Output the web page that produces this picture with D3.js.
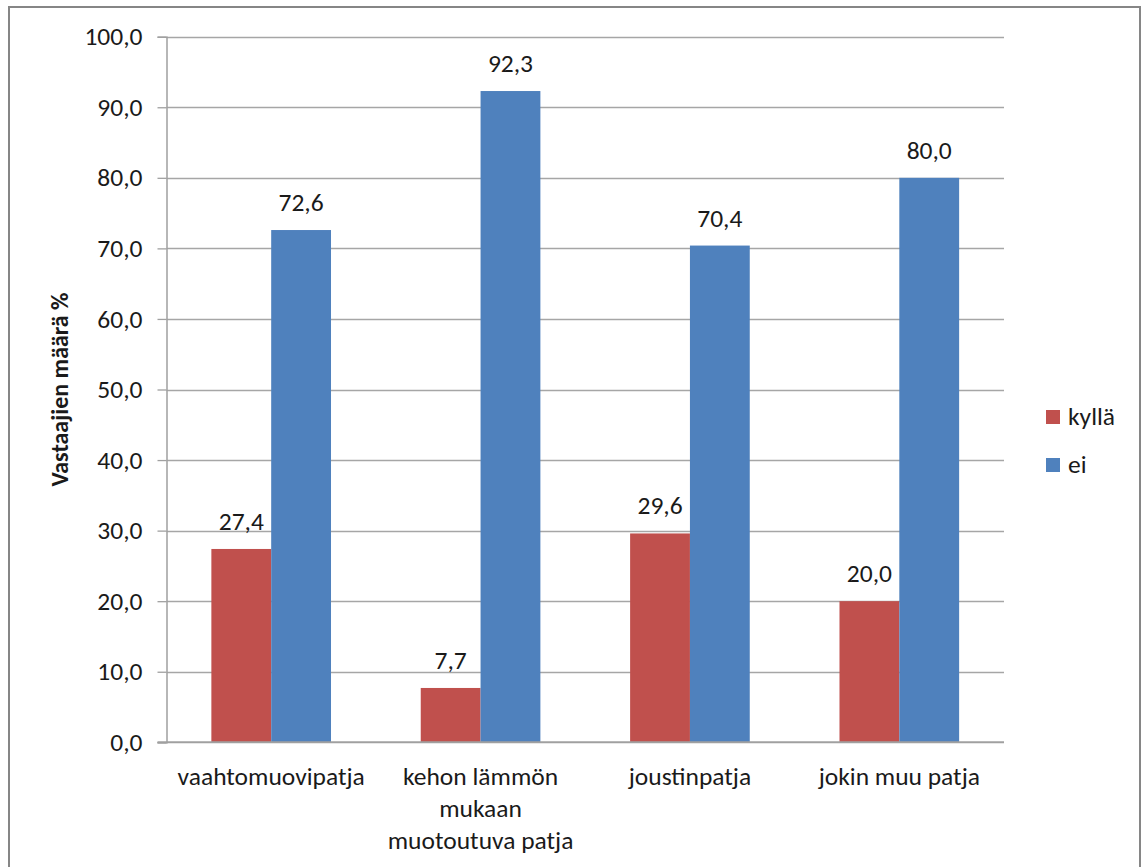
<!DOCTYPE html>
<html>
<head>
<meta charset="utf-8">
<script src="https://cdn.jsdelivr.net/npm/d3@7/dist/d3.min.js"></script>
<style>
  html, body { margin: 0; padding: 0; background: #fff; }
  svg text { font-family: Carlito, Calibri, Lato, "Open Sans", sans-serif; fill: #1a1a1a; }
</style>
</head>
<body>
<svg id="chart" width="1141" height="867"></svg>
<script>
// Mattress types (multi-line category labels)
const categories = [
  ["vaahtomuovipatja"],
  ["kehon lämmön", "mukaan", "muotoutuva patja"],
  ["joustinpatja"],
  ["jokin muu patja"]
];
const seriesNames = ["kyllä", "ei"];
const kylla = [27.4, 7.7, 29.6, 20.0];
const ei = [72.6, 92.3, 70.4, 80.0];
const yTicks = [0, 10, 20, 30, 40, 50, 60, 70, 80, 90, 100];
const colors = ["#C0504D", "#4F81BD"];
const yTitle = "Vastaajien määrä %";

const svg = d3.select("#chart");
const fmt = v => v.toFixed(1).replace(".", ",");
const FS = 25.5;

// outer frame
svg.append("rect")
  .attr("x", 9).attr("y", 7).attr("width", 1131).attr("height", 870)
  .attr("fill", "none").attr("stroke", "#868686").attr("stroke-width", 2);

const plot = { left: 166.5, right: 1004, top: 36.7, bottom: 742.3 };

const x0 = d3.scaleBand()
  .domain(d3.range(categories.length))
  .range([plot.left, plot.right])
  .paddingInner(0).paddingOuter(0);

const barW = x0.bandwidth() / 3.5;
const x1 = d3.scaleBand().domain(d3.range(seriesNames.length))
  .range([x0.bandwidth() / 2 - barW, x0.bandwidth() / 2 + barW]);

const y = d3.scaleLinear().domain([0, 100]).range([plot.bottom, plot.top]);

// gridlines
svg.append("g").selectAll("line").data(yTicks.filter(t => t > 0)).join("line")
  .attr("x1", plot.left).attr("x2", plot.right)
  .attr("y1", d => Math.round(y(d)) + 0.5).attr("y2", d => Math.round(y(d)) + 0.5)
  .attr("stroke", "#a6a6a6").attr("stroke-width", 1.3);

// y axis
const yAxis = d3.axisLeft(y).tickValues(yTicks).tickFormat(fmt).tickSize(9).tickPadding(15);
const gy = svg.append("g").attr("transform", `translate(${plot.left},0)`).call(yAxis);
gy.select(".domain").attr("stroke", "#a0a0a0").attr("stroke-width", 1.5);
gy.selectAll(".tick line").attr("stroke", "#a0a0a0").attr("stroke-width", 1.3);
gy.selectAll(".tick text").attr("font-size", FS).attr("fill", "#1a1a1a");

// bars
const data = [kylla, ei];
const groups = svg.append("g").selectAll("g").data(categories).join("g")
  .attr("transform", (d, i) => `translate(${x0(i)},0)`);

groups.each(function(cat, i) {
  const g = d3.select(this);
  seriesNames.forEach((s, j) => {
    const v = data[j][i];
    g.append("rect")
      .attr("x", x1(j)).attr("width", x1.bandwidth())
      .attr("y", y(v)).attr("height", y(0) - y(v))
      .attr("fill", colors[j]);
    g.append("text")
      .attr("x", x1(j) + x1.bandwidth() / 2)
      .attr("y", y(v) - 19)
      .attr("text-anchor", "middle")
      .attr("font-size", FS)
      .text(fmt(v));
  });
});

// x axis line
svg.append("line")
  .attr("x1", plot.left - 9).attr("x2", plot.right)
  .attr("y1", plot.bottom).attr("y2", plot.bottom)
  .attr("stroke", "#a0a0a0").attr("stroke-width", 2);

// category labels
groups.each(function(cat, i) {
  const t = d3.select(this).append("text")
    .attr("x", x0.bandwidth() / 2)
    .attr("y", plot.bottom + 43)
    .attr("text-anchor", "middle")
    .attr("font-size", FS);
  cat.forEach((line, k) => {
    t.append("tspan").attr("x", x0.bandwidth() / 2).attr("dy", k === 0 ? 0 : 32).text(line);
  });
});

// y axis title
svg.append("text")
  .attr("transform", `translate(68,${(plot.top + plot.bottom) / 2}) rotate(-90)`)
  .attr("text-anchor", "middle")
  .attr("font-size", 24).attr("font-weight", "bold")
  .text(yTitle);

// legend
const legend = svg.append("g").selectAll("g").data(seriesNames).join("g")
  .attr("transform", (d, i) => `translate(1046,${410 + i * 48})`);
legend.append("rect").attr("width", 14).attr("height", 14)
  .attr("fill", (d, i) => colors[i]);
legend.append("text").attr("x", 22).attr("y", 15).attr("font-size", FS).text(d => d);
</script>
</body>
</html>
